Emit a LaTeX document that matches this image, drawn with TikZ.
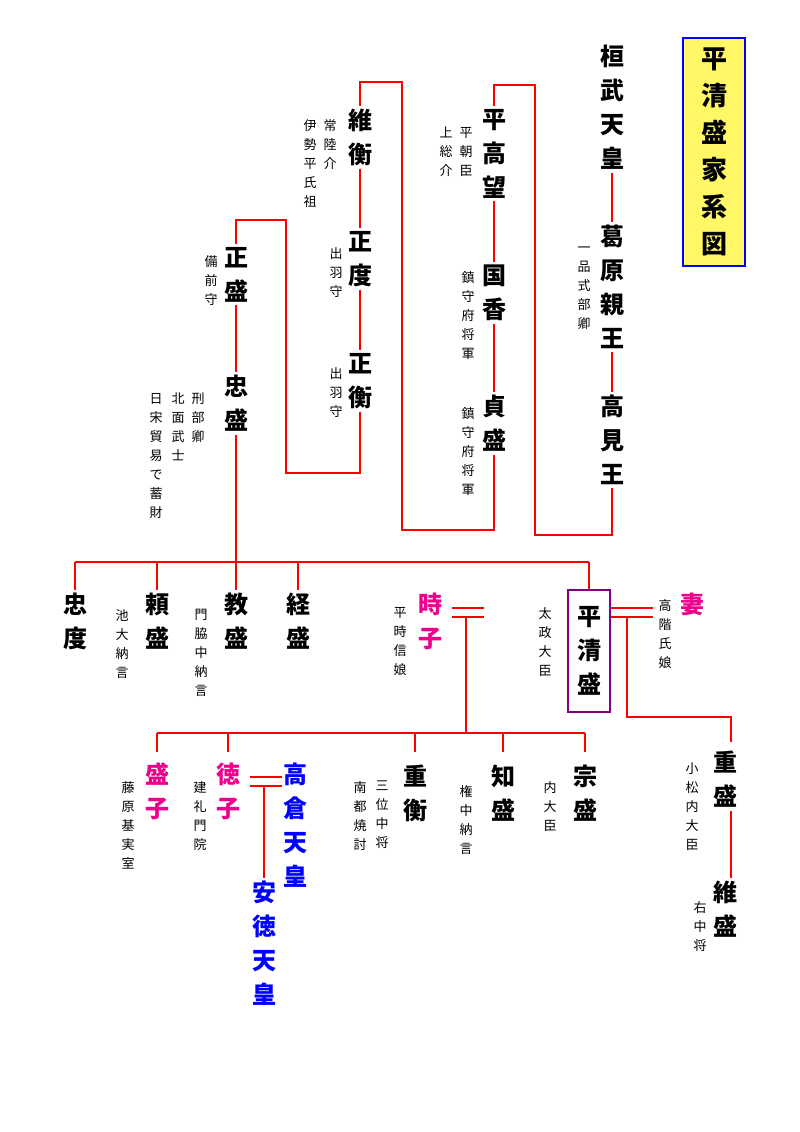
\documentclass[tikz,border=0pt]{standalone}
\usepackage{fontspec}
\newfontfamily\cjk{Noto Sans CJK JP}
\begin{document}
\begin{tikzpicture}
    [
        x=1pt, y=-1pt,
        name_style/.style={font=\cjk\bfseries\fontsize{24}{34}\selectfont, align=center, anchor=north, inner sep=3pt},
        note_style/.style={font=\cjk\fontsize{13}{19}\selectfont, align=center, anchor=north, inner sep=1pt},
        wife_style/.style={name_style, text=magenta},
        emp_style/.style={name_style, text=blue},
        line_style/.style={draw=red, line width=2pt}
    ]
        \useasboundingbox (0,0) rectangle (800,1132);
        % title
        \node[draw=blue, line width=1.5pt, fill=yellow!60, minimum width=62, minimum height=228, font=\cjk\bfseries\fontsize{26}{37}\selectfont, align=center] (title) at (714,152) {平\\清\\盛\\家\\系\\図};

        % line of descent
        \node[name_style] (kanmu) at (612,42) {桓\\武\\天\\皇};
        \node[name_style] (kazu) at (612,222) {葛\\原\\親\\王};
        \node[note_style] (kazu_n) at (584,246) {一\\品\\式\\部\\卿};
        \node[name_style] (takami) at (612,392) {高\\見\\王};
        \node[name_style] (takamochi) at (494,106) {平\\高\\望};
        \node[note_style] (takamochi_n1) at (466,126) {平\\朝\\臣};
        \node[note_style] (takamochi_n2) at (446,126) {上\\総\\介};
        \node[name_style] (kunika) at (494,262) {国\\香};
        \node[note_style] (kunika_n) at (468,270) {鎮\\守\\府\\将\\軍};
        \node[name_style] (sadamori) at (494,392) {貞\\盛};
        \node[note_style] (sadamori_n) at (468,406) {鎮\\守\\府\\将\\軍};
        \node[name_style] (korehira) at (360,106) {維\\衡};
        \node[note_style] (korehira_n1) at (330,118) {常\\陸\\介};
        \node[note_style] (korehira_n2) at (310,118) {伊\\勢\\平\\氏\\祖};
        \node[name_style] (masanori) at (360,228) {正\\度};
        \node[note_style] (masanori_n) at (336,246) {出\\羽\\守};
        \node[name_style] (masahira) at (360,350) {正\\衡};
        \node[note_style] (masahira_n) at (336,366) {出\\羽\\守};
        \node[name_style] (masamori) at (236,244) {正\\盛};
        \node[note_style] (masamori_n) at (211,254) {備\\前\\守};
        \node[name_style] (tadamori) at (236,372) {忠\\盛};
        \node[note_style] (tadamori_n1) at (198,392) {刑\\部\\卿};
        \node[note_style] (tadamori_n2) at (178,392) {北\\面\\武\\士};
        \node[note_style] (tadamori_n3) at (156,392) {日\\宋\\貿\\易\\で\\蓄\\財};

        \draw[line_style] (kanmu.south) -- (kazu.north);
        \draw[line_style] (kazu.south) -- (takami.north);
        \draw[line_style] (takami.south) |- (535,535) |- (494,85) -- (takamochi.north);
        \draw[line_style] (takamochi.south) -- (kunika.north);
        \draw[line_style] (kunika.south) -- (sadamori.north);
        \draw[line_style] (sadamori.south) |- (402,530) |- (360,82) -- (korehira.north);
        \draw[line_style] (korehira.south) -- (masanori.north);
        \draw[line_style] (masanori.south) -- (masahira.north);
        \draw[line_style] (masahira.south) |- (286,473) |- (236,220) -- (masamori.north);
        \draw[line_style] (masamori.south) -- (tadamori.north);

        % children of Tadamori
        \node[name_style] (tadanori) at (75,590) {忠\\度};
        \node[name_style] (yorimori) at (157,590) {頼\\盛};
        \node[note_style] (yorimori_n) at (122,608) {池\\大\\納\\言};
        \node[name_style] (norimori) at (236,590) {教\\盛};
        \node[note_style] (norimori_n) at (201,608) {門\\脇\\中\\納\\言};
        \node[name_style] (tsunemori) at (298,590) {経\\盛};
        \node[name_style, draw=violet, line width=1.5pt, minimum width=42, minimum height=122, anchor=center] (kiyomori) at (589,651) {平\\清\\盛};
        \node[note_style] (kiyomori_n) at (545,606) {太\\政\\大\\臣};
        \coordinate (branch) at (236,562);
        \draw[line_style] (tadamori.south) -- (branch);
        \draw[line_style] (tadanori.north |- branch) -- (kiyomori.north |- branch);
        \foreach \c in {tadanori, yorimori, norimori, tsunemori, kiyomori}
            \draw[line_style] (\c.north |- branch) -- (\c.north);

        % wives
        \node[wife_style] (tokiko) at (430,590) {時\\子};
        \node[note_style] (tokiko_n) at (400,606) {平\\時\\信\\娘};
        \node[wife_style] (tsuma) at (692,590) {妻};
        \node[note_style] (tsuma_n) at (665,598) {高\\階\\氏\\娘};
        \coordinate (t1) at (452,608);
        \coordinate (t2) at (452,617);
        \draw[line_style] (t1) -- ++(32,0);
        \draw[line_style] (t2) -- ++(32,0);
        \draw[line_style] (kiyomori.east |- t1) -- ++(42,0);
        \draw[line_style] (kiyomori.east |- t2) -- ++(42,0);

        % children of Kiyomori
        \node[wife_style] (moriko) at (157,760) {盛\\子};
        \node[note_style] (moriko_n) at (128,780) {藤\\原\\基\\実\\室};
        \node[wife_style] (tokuko) at (228,760) {徳\\子};
        \node[note_style] (tokuko_n) at (200,780) {建\\礼\\門\\院};
        \node[emp_style] (takakura) at (295,760) {高\\倉\\天\\皇};
        \node[emp_style] (antoku) at (264,878) {安\\徳\\天\\皇};
        \node[name_style] (shigehira) at (415,762) {重\\衡};
        \node[note_style] (shigehira_n1) at (382,780) {三\\位\\中\\将};
        \node[note_style] (shigehira_n2) at (360,780) {南\\都\\焼\\討};
        \node[name_style] (tomomori) at (503,762) {知\\盛};
        \node[note_style] (tomomori_n) at (466,784) {権\\中\\納\\言};
        \node[name_style] (munemori) at (585,762) {宗\\盛};
        \node[note_style] (munemori_n) at (550,780) {内\\大\\臣};
        \node[name_style] (shigemori) at (725,748) {重\\盛};
        \node[note_style] (shigemori_n) at (692,762) {小\\松\\内\\大\\臣};
        \node[name_style] (koremori) at (725,878) {維\\盛};
        \node[note_style] (koremori_n) at (700,900) {右\\中\\将};

        \coordinate (branch2) at (466,733);
        \draw[line_style] (466,617) -- (branch2);
        \draw[line_style] (moriko.north |- branch2) -- (munemori.north |- branch2);
        \foreach \c in {moriko, tokuko, shigehira, tomomori, munemori}
            \draw[line_style] (\c.north |- branch2) -- ++(0,19);
        \draw[line_style] (627,617) |- (731,717) -- (731,742);
        \draw[line_style] (shigemori.south -| 731,0) -- (koremori.north -| 731,0);

        \draw[line_style] (250,777) -- (282,777);
        \draw[line_style] (250,786) -- (282,786);
        \draw[line_style] (264,786) -- (antoku.north);
    \end{tikzpicture}
\end{document}
